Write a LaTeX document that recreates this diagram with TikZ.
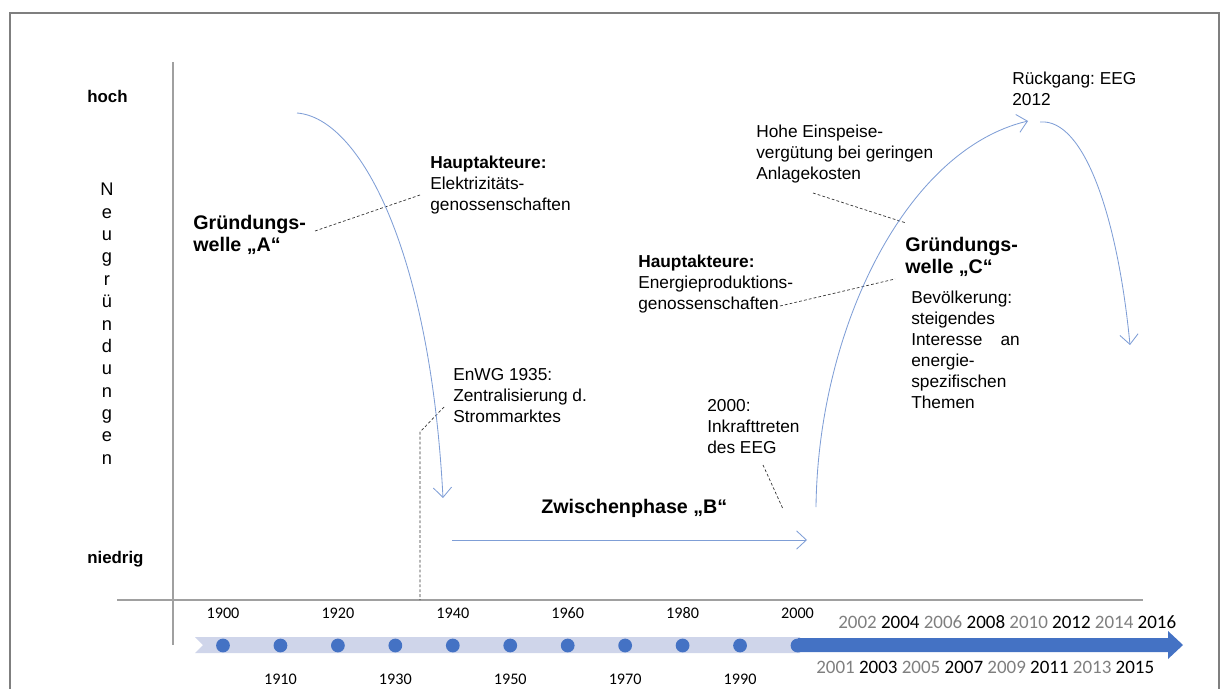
\documentclass[tikz,border=0pt]{standalone}
\usepackage{fontspec}
\setmainfont{Liberation Sans}
\newfontfamily\calib{Carlito}
\usetikzlibrary{arrows.meta,calc}
\definecolor{wavecol}{HTML}{7F9ED6}
\definecolor{tlblue}{HTML}{4472C4}
\definecolor{tlband}{HTML}{CFD5EA}
\definecolor{framegray}{HTML}{7F7F7F}
\definecolor{axisgray}{HTML}{A0A0A0}
\definecolor{yrgray}{HTML}{7F7F7F}
\frenchspacing

\begin{document}
\begin{tikzpicture}[x=0.025cm, y=-0.025cm,
    note/.style={font=\fontsize{12.3}{14.9}\selectfont, align=left, inner sep=0pt, anchor=north west},
    head/.style={note, font=\bfseries\fontsize{14}{15.6}\selectfont},
    lvl/.style={font=\bfseries\fontsize{12}{14}\selectfont, inner sep=0pt, anchor=base west},
    wave/.style={wavecol, line width=0.6pt, -{Straight Barb[length=7pt,width=13pt]}},
    lead/.style={black!80, line width=0.5pt, dash pattern=on 2pt off 1.5pt},
    tldot/.style={circle, fill=tlblue, inner sep=0pt, minimum size=9.8pt},
    decade/.style={font=\calib\fontsize{11.5}{13}\selectfont, inner sep=0pt, anchor=base},
    yrs/.style={font=\calib\fontsize{13.5}{15}\selectfont, inner sep=0pt, anchor=base west}]
  \useasboundingbox (0,0) rectangle (1222,689);
  \draw[framegray, line width=1.4pt] (10,689) |- (1219,13) -- (1219,689);

  % axes
  \draw[axisgray, line width=1pt] (173,62) -- (173,645);
  \draw[axisgray, line width=1pt] (117,600) -- (1143,600);
  \node[lvl] (hoch) at (87,103) {hoch};
  \node[lvl] (niedrig) at (87,563) {niedrig};
  \node[font=\fontsize{13}{15.9}\selectfont, align=center, inner sep=0pt, anchor=north] (yaxis) at (107,183)
    {N\\e\\u\\g\\r\\ü\\n\\d\\u\\n\\g\\e\\n};

  % timeline
  \fill[tlband] (195,637) -- (800,637) -- (800,653) -- (195,653) -- (203,645) -- cycle;
  \fill[tlblue] (798,638) -- (1168,638) -- (1168,631) -- (1183,645) -- (1168,659) -- (1168,652) -- (798,652) -- cycle;
  \foreach \k in {0,...,10} {
    \pgfmathtruncatemacro\yr{1900+10*\k}
    \node[tldot] (d\yr) at ({223+57.45*\k},645.5) {};
  }
  \foreach \yr in {1900,1920,...,2000}
    \node[decade] (l\yr) at ($(d\yr)+(0,-27.5)$) {\yr};
  \foreach \yr in {1910,1930,...,1990}
    \node[decade] (l\yr) at ($(d\yr)+(0,38.5)$) {\yr};
  \node[yrs] (evenyrs) at (838,628) {\textcolor{yrgray}{2002} 2004 \textcolor{yrgray}{2006} 2008 \textcolor{yrgray}{2010} 2012 \textcolor{yrgray}{2014} 2016};
  \node[yrs] (oddyrs) at (816,673) {\textcolor{yrgray}{2001} 2003 \textcolor{yrgray}{2005} 2007 \textcolor{yrgray}{2009} 2011 \textcolor{yrgray}{2013} 2015};

  % labels
  \node[head] (waveA) at (193,214.6) {Gründungs-\\welle „A“};
  \node[note] (actA) at (430,155.5) {\textbf{Hauptakteure:}\\Elektrizitäts-\\genossenschaften};
  \node[note] (enwg) at (453,368.5) {EnWG 1935:\\Zentralisierung d.\\Strommarktes};
  \node[lvl, font=\bfseries\fontsize{14}{15.6}\selectfont] (phaseB) at (541,513) {Zwischenphase „B“};
  \node[note] (eeg) at (707,399.5) {2000:\\Inkrafttreten\\des EEG};
  \node[note] (actC) at (638,254.5) {\textbf{Hauptakteure:}\\Energieproduktions-\\genossenschaften};
  \node[note] (tariff) at (756,124.5) {Hohe Einspeise-\\vergütung bei geringen\\Anlagekosten};
  \node[head] (waveC) at (905,237) {Gründungs-\\welle „C“};
  \node[note, font=\fontsize{12.3}{15}\selectfont] (public) at (911,290.5)
    {Bevölkerung:\\steigendes\\Interesse\hspace{1.05em}an\\energie-\\spezifischen\\Themen};
  \node[note] (decline) at (1012,71.5) {Rückgang: EEG\\2012};

  % leader lines
  \coordinate (aFoot) at (315,231); \coordinate (aHead) at (420,195);
  \coordinate (enwgA) at (444,407); \coordinate (enwgB) at (420,432); \coordinate (enwgC) at (420,600);
  \coordinate (eegA) at (763,465); \coordinate (eegB) at (783,509);
  \coordinate (actCA) at (780,306); \coordinate (actCB) at (895,279);
  \coordinate (tarA) at (813,193); \coordinate (tarB) at (906,223);
  \draw[lead] (aFoot) -- (aHead);
  \draw[lead] (enwgA) -- (enwgB) -- (enwgC);
  \draw[lead] (eegA) -- (eegB);
  \draw[lead] (actCA) -- (actCB);
  \draw[lead] (tarA) -- (tarB);

  % waves
  \coordinate (aS) at (297,113); \coordinate (aE) at (443,498);
  \coordinate (bS) at (452,540); \coordinate (bE) at (807,540);
  \coordinate (cS) at (816,507); \coordinate (cE) at (1028,121);
  \coordinate (dS) at (1040,122); \coordinate (dE) at (1130,345);
  \draw[wave] (aS) .. controls (360,118) and (430,250) .. (aE);
  \draw[wave] (bS) -- (bE);
  \draw[wave] (cS) .. controls (818,330) and (905,150) .. (cE);
  \draw[wave] (dS) .. controls (1085,118) and (1118,220) .. (dE);
\end{tikzpicture}
\end{document}
